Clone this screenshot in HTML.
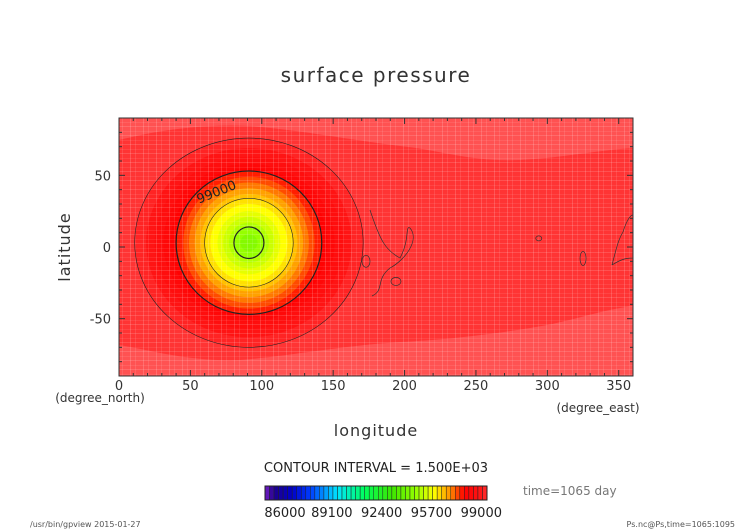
<!DOCTYPE html>
<html><head><meta charset="utf-8"><style>
html,body{margin:0;padding:0;background:#fff;}
svg{display:block;font-family:"DejaVu Sans","Liberation Sans",sans-serif;}
</style></head><body>
<svg id="chart" width="752" height="532" viewBox="0 0 752 532" xmlns="http://www.w3.org/2000/svg">
<defs>
<clipPath id="pc"><rect x="119" y="118" width="514" height="258"/></clipPath>
<pattern id="grid" width="13" height="9" patternUnits="userSpaceOnUse">
<rect x="0" y="0" width="1" height="9" fill="#fff" opacity="0.16"/>
<rect x="5" y="0" width="1" height="9" fill="#fff" opacity="0.1"/>
<rect x="0" y="0" width="13" height="1" fill="#fff" opacity="0.14"/>
<rect x="0" y="5" width="13" height="1" fill="#fff" opacity="0.08"/>
</pattern>
</defs>
<text x="376" y="82" font-size="20" text-anchor="middle" fill="#333" letter-spacing="1.5">surface pressure</text>
<g id="plot" clip-path="url(#pc)"></g>
<g id="axes"></g>
<text x="70" y="247" font-size="16" text-anchor="middle" fill="#333" transform="rotate(-90 70 247)" letter-spacing="1">latitude</text>
<text x="100" y="402" font-size="12" text-anchor="middle" fill="#333">(degree_north)</text>
<text x="376" y="436" font-size="16" text-anchor="middle" fill="#333" letter-spacing="1">longitude</text>
<text x="598" y="412" font-size="12" text-anchor="middle" fill="#333">(degree_east)</text>
<text x="376" y="472" font-size="13" text-anchor="middle" fill="#222">CONTOUR INTERVAL = 1.500E+03</text>
<g id="cbar"></g>
<text x="523" y="495" font-size="12" fill="#777">time=1065 day</text>
<text x="30" y="527" font-size="8" fill="#555">/usr/bin/gpview  2015-01-27</text>
<text x="735" y="527" font-size="8" fill="#555" text-anchor="end">Ps.nc@Ps,time=1065:1095</text>
</svg>
<script>
const xTicks=[0,50,100,150,200,250,300,350];
const yTicks=[-50,0,50];
const cbLabels=[86000,89100,92400,95700,99000];
const cbMin=86000, cbStep=300, cbCount=49;
// ring levels (Pa) and their half-widths in degrees (lon, lat) around the low centre
const ringLevels=[100500,100200,99900,99600,99300,99000,98700,98400,98100,97800,97500,97200,96900,96600,96300,96000,95700];
const ringLon=[80,72,66,60,55,51,46,42,38,34,31,27,22,18,14,10.5,6];
const ringLat=[73,66,60,55,52,50,46,42,38,34,31,27,22,18,14,11,6];
const centerLon=91, centerLat=3;
const contourLevels=[100500,99000,97500,96000];
const baseLevel=100800;

const X0=119,X1=633,Y0=118,Y1=376;
const xs=v=>X0+(v/360)*(X1-X0);
const ys=v=>Y0+((90-v)/180)*(Y1-Y0);
const NS="http://www.w3.org/2000/svg";
function mk(tag,attrs,parent){const e=document.createElementNS(NS,tag);for(const k in attrs)e.setAttribute(k,attrs[k]);parent.appendChild(e);return e;}
const anchors=[[86000,[120,30,200]],[86600,[30,0,140]],[87800,[0,0,200]],[89000,[0,60,255]],[90800,[0,230,255]],[92600,[0,255,90]],[94400,[60,230,0]],[96000,[150,255,0]],[97200,[255,255,0]],[98200,[255,150,0]],[99200,[255,0,0]],[100200,[255,20,20]],[100800,[255,52,52]],[101000,[255,110,110]]];
function cmap(v){
 if(v<=anchors[0][0])return rgb(anchors[0][1]);
 for(let i=1;i<anchors.length;i++){if(v<=anchors[i][0]){const a=anchors[i-1],b=anchors[i],t=(v-a[0])/(b[0]-a[0]);return rgb(a[1].map((c,j)=>c+(b[1][j]-c)*t));}}
 return rgb(anchors[anchors.length-1][1]);
}
function rgb(c){return "rgb("+c.map(Math.round).join(",")+")";}
const plot=document.getElementById('plot');
const bg=mk('rect',{x:X0,y:Y0,width:X1-X0,height:Y1-Y0,fill:cmap(baseLevel)},plot);


const hb1=mk('path',{d:`M${X0} ${Y0} L${X1} ${Y0} L${X1} 148 C600 150 560 158 520 160 C470 162 440 150 400 146 C350 140 300 130 250 126 C200 124 160 130 119 140 Z`,fill:'#ff5252'},plot);


const hb2=mk('path',{d:`M${X0} ${Y1} L${X1} ${Y1} L${X1} 306 C600 310 570 322 530 328 C480 336 440 340 400 342 C340 346 290 356 240 360 C190 362 150 350 119 345 Z`,fill:'#ff5252'},plot);


const cx=xs(centerLon), cy=ys(centerLat), kx=(X1-X0)/360, ky=(Y1-Y0)/180;
ringLevels.forEach((lv,i)=>{
 const e=mk('ellipse',{cx:cx,cy:cy,rx:ringLon[i]*kx,ry:ringLat[i]*ky,fill:cmap(lv)},plot);
 
 
});
mk('rect',{x:X0,y:Y0,width:X1-X0,height:Y1-Y0,fill:'url(#grid)'},plot);
ringLevels.forEach((lv,i)=>{
 if(contourLevels.indexOf(lv)<0)return;
 const thick=(lv===99000||lv===96000);
 const e=mk('ellipse',{cx:cx,cy:cy,rx:ringLon[i]*kx,ry:ringLat[i]*ky,fill:'none',stroke:'#222','stroke-width':thick?1.2:0.6},plot);
 
 
});
const isl=mk('path',{d:'M370 210 C380 240 385 250 400 258 C410 240 405 225 410 228 C420 240 405 260 390 268 C375 280 385 290 372 296',fill:'none',stroke:'#333','stroke-width':0.7},plot);


[[xs(173),ys(-10),4,6],[xs(194),ys(-24),5,4],[xs(294),ys(6),3,2.5],[xs(325),ys(-8),3,7]].forEach(p=>{mk('ellipse',{cx:p[0],cy:p[1],rx:p[2],ry:p[3],fill:'none',stroke:'#333','stroke-width':0.7},plot);});
mk('path',{d:'M612 265 C616 250 618 240 623 232 C626 222 630 215 633 215 L633 258 C625 258 620 260 612 265',fill:'none',stroke:'#333','stroke-width':0.7},plot);
const lbl=mk('text',{x:218,y:196,'font-size':13,fill:'#222','text-anchor':'middle',transform:'rotate(-22 218 196)'},plot);
lbl.textContent='99000';


const ax=document.getElementById('axes');
mk('rect',{x:X0,y:Y0,width:X1-X0,height:Y1-Y0,fill:'none',stroke:'#333','stroke-width':1},ax);
for(let v=0;v<=360;v+=10){const x=xs(v),L=v%50===0?6:3;mk('line',{x1:x,y1:Y1,x2:x,y2:Y1-L,stroke:'#333'},ax);mk('line',{x1:x,y1:Y0,x2:x,y2:Y0+L,stroke:'#333'},ax);}
for(let v=-90;v<=90;v+=10){const y=ys(v),L=v%50===0?6:3;mk('line',{x1:X0,y1:y,x2:X0+L,y2:y,stroke:'#333'},ax);mk('line',{x1:X1,y1:y,x2:X1-L,y2:y,stroke:'#333'},ax);}
xTicks.forEach(v=>{const t=mk('text',{x:xs(v),y:390,'font-size':13,'text-anchor':'middle',fill:'#333'},ax);t.textContent=v;});
yTicks.forEach(v=>{const t=mk('text',{x:111,y:ys(v)+5,'font-size':13,'text-anchor':'end',fill:'#333'},ax);t.textContent=v;});
const cb=document.getElementById('cbar');
const CX0=265,CX1=487,CY0=486,CY1=500,cw=(CX1-CX0)/cbCount;
for(let i=0;i<cbCount;i++){const r=mk('rect',{x:CX0+i*cw,y:CY0,width:cw,height:CY1-CY0,fill:cmap(cbMin+i*cbStep+150),stroke:'#222','stroke-width':0.5},cb);}
mk('rect',{x:CX0,y:CY0,width:CX1-CX0,height:CY1-CY0,fill:'none',stroke:'#222'},cb);
cbLabels.forEach(v=>{const i=(v-cbMin)/cbStep;const t=mk('text',{x:CX0+i*cw+20,y:517,'font-size':13,'text-anchor':'middle',fill:'#222'},cb);t.textContent=v;});
</script>
</body></html>
